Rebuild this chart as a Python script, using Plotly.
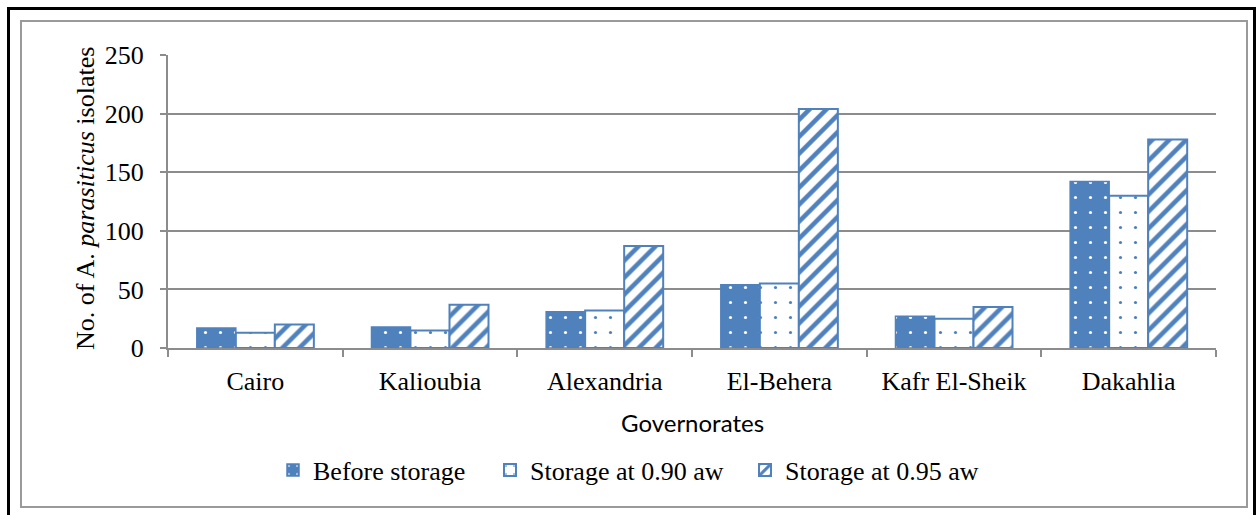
import plotly.graph_objects as go

# Isolate counts per governorate
governorates = ["Cairo", "Kalioubia", "Alexandria", "El-Behera", "Kafr El-Sheik", "Dakahlia"]
before_storage = [17, 18, 31, 54, 27, 142]
storage_090 = [13, 15, 32, 55, 25, 130]
storage_095 = [20, 37, 87, 204, 35, 178]

y_ticks = [0, 50, 100, 150, 200, 250]

BLUE = "#4F81BD"
GRID = "#8c8c8c"
SERIF = "Liberation Serif"
FS = 26

W, H = 1259, 515
L, R, T, B = 168, 43, 55, 167
PW, PH = W - L - R, H - T - B


def px_x(px):
    return (px - L) / PW


def px_y(py):
    return (H - B - py) / PH


dot_pattern = dict(shape=".", size=15, solidity=0.035, fillmode="replace")

fig = go.Figure()
fig.add_trace(go.Bar(
    name="Before storage", x=governorates, y=before_storage, legend="legend",
    marker=dict(color=BLUE, line=dict(color=BLUE, width=1.5),
                pattern=dict(dot_pattern, fgcolor="white", bgcolor=BLUE)),
))
fig.add_trace(go.Bar(
    name="Storage at 0.90 aw", x=governorates, y=storage_090, legend="legend2",
    marker=dict(color="white", line=dict(color=BLUE, width=2),
                pattern=dict(dot_pattern, fgcolor=BLUE, bgcolor="white")),
))
fig.add_trace(go.Bar(
    name="Storage at 0.95 aw", x=governorates, y=storage_095, legend="legend3",
    marker=dict(color="white", line=dict(color=BLUE, width=2),
                pattern=dict(shape="/", fgcolor=BLUE, bgcolor="white",
                             size=12, solidity=0.38, fillmode="replace")),
))


def legend_at(text_left_px):
    return dict(orientation="h", x=px_x(text_left_px - 41), xanchor="left",
                y=px_y(470), yanchor="middle", itemwidth=30,
                font=dict(family=SERIF, size=FS), bgcolor="rgba(0,0,0,0)")


fig.update_layout(
    width=W, height=H,
    margin=dict(l=L, r=R, t=T, b=B),
    paper_bgcolor="white", plot_bgcolor="white",
    barmode="group", bargap=0.33, bargroupgap=0,
    font=dict(family=SERIF, size=FS, color="black"),
    showlegend=True,
    legend=legend_at(314),
    legend2=legend_at(531),
    legend3=legend_at(786),
    xaxis=dict(
        showline=True, linecolor=GRID, linewidth=2,
        ticks="outside", tickson="boundaries", ticklen=7,
        tickcolor=GRID, tickwidth=2,
        tickfont=dict(family=SERIF, size=FS),
        ticklabelstandoff=9,
        showgrid=False,
    ),
    yaxis=dict(
        range=[0, 250], tickvals=y_ticks, ticktext=[str(v) for v in y_ticks],
        showline=True, linecolor=GRID, linewidth=2,
        ticks="outside", ticklen=6, tickcolor=GRID, tickwidth=2,
        showgrid=True, gridcolor=GRID, gridwidth=2,
        zeroline=False,
        tickfont=dict(family=SERIF, size=FS),
        ticklabelstandoff=11,
    ),
    annotations=[
        dict(text="No. of A. <i>parasiticus</i> isolates", xref="paper", yref="paper",
             x=px_x(85), y=px_y(199), xanchor="center", yanchor="middle",
             textangle=-90, showarrow=False,
             font=dict(family=SERIF, size=FS)),
        dict(text="Governorates", xref="paper", yref="paper",
             x=0.5, y=px_y(422), xanchor="center", yanchor="middle",
             showarrow=False, font=dict(family="Lato", size=24)),
    ],
    shapes=[
        # outer black frame
        dict(type="rect", xref="paper", yref="paper",
             x0=px_x(8.5), x1=px_x(1254.5), y0=px_y(540), y1=px_y(8.5),
             line=dict(color="black", width=3), fillcolor="rgba(0,0,0,0)"),
        # inner grey frame
        dict(type="rect", xref="paper", yref="paper",
             x0=px_x(21), x1=px_x(1247), y0=px_y(507), y1=px_y(21),
             line=dict(color="#9a9a9a", width=2), fillcolor="rgba(0,0,0,0)"),
    ],
)

fig.write_html("out.html")
